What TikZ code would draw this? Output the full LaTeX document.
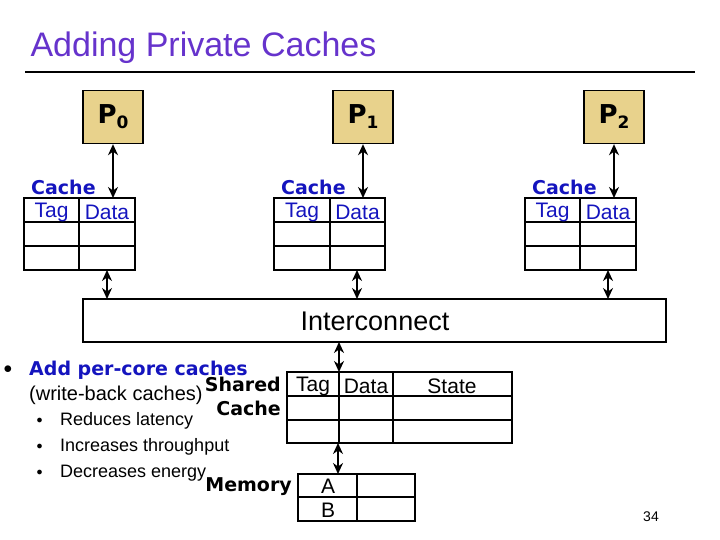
\documentclass[tikz,border=0pt]{standalone}
\usepackage{fontspec}
\setmainfont{DejaVu Sans}
\newfontfamily\thin{Liberation Sans}
\usepackage{tikz}
\usetikzlibrary{arrows.meta}
\definecolor{titlepurple}{RGB}{102,51,204}
\definecolor{cacheblue}{RGB}{20,20,190}
\definecolor{procfill}{RGB}{232,210,140}
\tikzset{proc/.style={draw,line width=1.4pt,fill=procfill,minimum width=60pt,minimum height=53pt,font=\bfseries\fontsize{26}{28}\selectfont},
  lbl/.style={font=\thin\fontsize{21}{21}\selectfont},
  bus/.style={{Stealth[length=11pt,width=10pt]}-{Stealth[length=11pt,width=10pt]},line width=2.4pt}}
\begin{document}
\begin{tikzpicture}[x=1pt,y=-1pt]
\useasboundingbox (0,0) rectangle (720,540);
\node[anchor=west,text=titlepurple,font=\thin\fontsize{34}{35}\selectfont] (title) at (27,48) {Adding Private Caches};
\draw[line width=1.2pt] (25,72) -- (695,72);
% processors and private caches
\foreach \i/\x/\d in {0/24/79,1/274/330,2/525/580}{
  \node[proc] (p\i) at (\x+89,117) {P\raisebox{-5pt}{\fontsize{17}{17}\selectfont\i}};
  \node[anchor=south west,inner sep=0pt,text=cacheblue,font=\bfseries\fontsize{19}{19}\selectfont] (cl\i) at (\x+7,195) {Cache};
  \draw[line width=1.4pt] (\x,198) rectangle (\x+111,270);
  \draw[line width=1.4pt] (\x,222) -- (\x+111,222) (\x,246) -- (\x+111,246) (\d,198) -- (\d,270);
  \node[lbl,text=cacheblue] (tg\i) at ({(\x+\d)/2},212) {Tag};
  \node[lbl,text=cacheblue] (dt\i) at ({(\d+\x+111)/2},212) {Data};
  \coordinate (ct\i) at (\x+89,198);
  \coordinate (cb\i) at (\x+83,270);
  \coordinate (it\i) at (\x+83,299);
  \draw[bus] (p\i.south) -- (ct\i);
  \draw[bus] (cb\i) -- (it\i);
}
\draw[line width=1.4pt] (83,299) rectangle (666,342);
\node[font=\thin\fontsize{27}{27}\selectfont] (ic) at (375,321) {Interconnect};
% shared cache
\draw[line width=1.4pt] (287,372) rectangle (512,443);
\draw[line width=1.4pt] (287,396) -- (512,396) (287,420) -- (512,420) (339,372) -- (339,443) (393,372) -- (393,443);
\node[lbl] (stag) at (313,386) {Tag};
\node[lbl] (sdata) at (366,386) {Data};
\node[lbl] (sstate) at (452,386) {State};
\node[anchor=east,align=right,inner sep=0pt,font=\bfseries\fontsize{19}{24}\selectfont] (slabel) at (281,396) {Shared\\Cache};
\coordinate (ib) at (339,342); \coordinate (st) at (339,372);
\coordinate (sb) at (338,443); \coordinate (mt) at (338,474);
\draw[bus] (ib) -- (st);
\draw[bus] (sb) -- (mt);
% memory
\draw[line width=1.4pt] (298,474) rectangle (415,521);
\draw[line width=1.4pt] (298,497) -- (415,497) (357,474) -- (357,521);
\node[lbl] (ma) at (328,486) {A};
\node[lbl] (mb) at (328,510) {B};
\node[anchor=east,inner sep=0pt,font=\bfseries\fontsize{19}{19}\selectfont] (mlabel) at (292,487) {Memory};
% bullets
\node[anchor=west,font=\fontsize{18}{18}\selectfont] (b0) at (0,370) {$\bullet$};
\node[anchor=west,inner sep=0pt,text=cacheblue,font=\bfseries\fontsize{19}{19}\selectfont] (b1) at (29,370) {Add per-core caches};
\node[anchor=west,inner sep=0pt,font=\thin\fontsize{20}{20}\selectfont] (b2) at (29,395) {(write-back caches)};
\foreach \t/\y in {Reduces latency/421,Increases throughput/447,Decreases energy/473}{
  \node[anchor=west,font=\fontsize{12}{12}\selectfont] at (33,\y) {$\bullet$};
  \node[anchor=west,inner sep=0pt,font=\thin\fontsize{18}{18}\selectfont] at (60,\y) {\t};
}
\node[font=\thin\fontsize{14}{14}\selectfont] (pg) at (651,517) {34};
\end{tikzpicture}
\end{document}
